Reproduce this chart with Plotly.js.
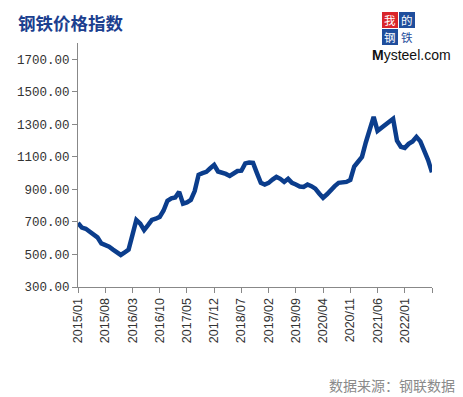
<!DOCTYPE html>
<html>
<head>
<meta charset="utf-8">
<script src="https://cdn.plot.ly/plotly-3.0.1.min.js"></script>
<style>
html,body{margin:0;padding:0;background:#fff;}
#chart{width:463px;height:397px;}
</style>
</head>
<body>
<div id="chart"></div>
<script>
// Monthly categories 2015/01 .. 2022/08
var months = [];
for (var y = 2015; y <= 2022; y++) {
  for (var m = 1; m <= 12; m++) {
    if (y === 2022 && m > 8) break;
    months.push(y + "/" + (m < 10 ? "0" + m : m));
  }
}
// Steel price index values
var priceIndex = [
  694, 665, 658, 640, 620, 605, 568, 560, 548, 530, 515, 497,
  512, 530, 620, 712, 690, 650, 680, 712, 720, 731, 770, 830,
  845, 850, 885, 812, 820, 835, 890, 990, 1000, 1008, 1030, 1050,
  1010, 1005, 995, 983, 1000, 1013, 1015, 1060, 1065, 1063, 1000, 940,
  930, 940, 960, 977, 965, 946, 965, 940, 930, 918, 915, 930,
  920, 905, 875, 848, 870, 897, 920, 940, 942, 946, 958, 1040,
  1070, 1100, 1190, 1260, 1346, 1260, 1280, 1297, 1315, 1334, 1200, 1162,
  1155, 1180, 1195, 1223, 1195, 1140, 1080, 1005
];
var tickMonths = ["2015/01","2015/08","2016/03","2016/10","2017/05","2017/12","2018/07","2019/02","2019/09","2020/04","2020/11","2021/06","2022/01","2022/08"];
var tickLabels = ["2015/01","2015/08","2016/03","2016/10","2017/05","2017/12","2018/07","2019/02","2019/09","2020/04","2020/11","2021/06","2022/01",""];
var yTicks = [300, 500, 700, 900, 1100, 1300, 1500, 1700];

var trace = {
  x: months,
  y: priceIndex,
  type: "scatter",
  mode: "lines",
  line: {color: "#0b3d8c", width: 4.5},
  hoverinfo: "x+y"
};

var plotW = 463 - 78 - 31, plotH = 397 - 43 - 110;
function px(x) { return (x - 78) / plotW; }
function py(y) { return (397 - 110 - y) / plotH; }

var layout = {
  width: 463,
  height: 397,
  margin: {l: 78, r: 31, t: 43, b: 110},
  paper_bgcolor: "#fff",
  plot_bgcolor: "#fff",
  showlegend: false,
  xaxis: {
    type: "category",
    range: [0, months.length - 1],
    tickmode: "array",
    tickvals: tickMonths,
    ticktext: tickLabels,
    tickangle: -90,
    ticks: "outside",
    ticklen: 5,
    tickcolor: "#888",
    showline: true,
    linecolor: "#888",
    linewidth: 1,
    showgrid: false,
    zeroline: false,
    tickfont: {family: "Liberation Sans, Arial, sans-serif", size: 12.5, color: "#333"}
  },
  yaxis: {
    range: [300, 1800],
    tickmode: "array",
    tickvals: yTicks,
    tickformat: ".2f",
    ticks: "outside",
    ticklen: 5,
    tickcolor: "#888",
    showline: true,
    linecolor: "#888",
    linewidth: 1,
    showgrid: false,
    zeroline: false,
    tickfont: {family: "Liberation Mono, DejaVu Sans Mono, monospace", size: 12.5, color: "#333"}
  },
  shapes: [],
  annotations: [
    {text: "<b>钢铁价格指数</b>", xref: "paper", yref: "paper", x: px(16), y: py(23), xanchor: "left", yanchor: "middle", showarrow: false,
     font: {family: "Noto Sans CJK SC, sans-serif", size: 17.5, color: "#1c3f8f"}},
    {text: "数据来源：钢联数据", xref: "paper", yref: "paper", x: px(456), y: py(385), xanchor: "right", yanchor: "middle", showarrow: false,
     borderpad: 0, font: {family: "Noto Sans CJK SC, sans-serif", size: 14, color: "#8a8a8a"}}
  ]
};

// Logo boxes
var boxes = [
  {x0: 382, y0: 12, ch: "我", bg: "#d9252b", fg: "#ffffff"},
  {x0: 399, y0: 12, ch: "的", bg: "#1f4e9c", fg: "#ffffff"},
  {x0: 382, y0: 29, ch: "钢", bg: "#1f4e9c", fg: "#ffffff"},
  {x0: 399, y0: 29, ch: "铁", bg: "#ffffff", fg: "#1f4e9c"}
];
boxes.forEach(function (b) {
  layout.shapes.push({type: "rect", xref: "paper", yref: "paper",
    x0: px(b.x0), x1: px(b.x0 + 16), y0: py(b.y0 + 16), y1: py(b.y0),
    fillcolor: b.bg, line: {width: 0}});
  layout.annotations.push({text: b.ch, xref: "paper", yref: "paper",
    x: px(b.x0 + 8), y: py(b.y0 + 8), xanchor: "center", yanchor: "middle", showarrow: false,
    borderpad: 0, font: {family: "Noto Sans CJK SC, sans-serif", size: 11.5, color: b.fg}});
});
layout.annotations.push({text: "<b>M</b>ysteel.com", xref: "paper", yref: "paper",
  x: px(411), y: py(55), xanchor: "center", yanchor: "middle", showarrow: false,
  font: {family: "Liberation Sans, Arial, sans-serif", size: 14, color: "#111"}});

Plotly.newPlot("chart", [trace], layout, {displayModeBar: false, staticPlot: true});
</script>
</body>
</html>
